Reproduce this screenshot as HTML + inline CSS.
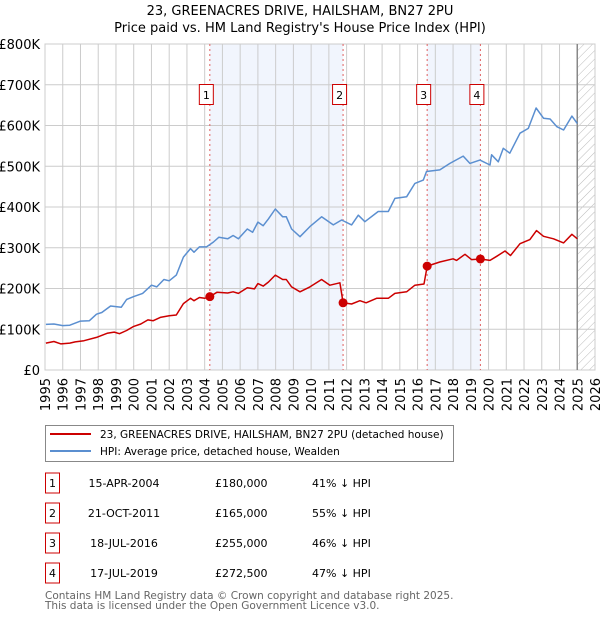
<!DOCTYPE html>
<html><head><meta charset="utf-8"><style>
body{margin:0;background:#fff;font-family:"DejaVu Sans","Liberation Sans",sans-serif}
svg{display:block}
</style></head><body>
<svg id="c" width="600" height="620" xmlns="http://www.w3.org/2000/svg" font-family="DejaVu Sans, Liberation Sans, sans-serif">
<defs><pattern id="hatch" width="6" height="6" patternUnits="userSpaceOnUse" patternTransform="rotate(45)"><line x1="0" y1="0" x2="0" y2="6" stroke="#bbb" stroke-width="1"/></pattern></defs>
<text x="300" y="15" text-anchor="middle" font-size="13">23, GREENACRES DRIVE, HAILSHAM, BN27 2PU</text>
<text x="300" y="32" text-anchor="middle" font-size="13">Price paid vs. HM Land Registry's House Price Index (HPI)</text>
<g id="plot"></g>
<g>
<rect x="45.5" y="425.5" width="408" height="36" fill="#fff" stroke="#888"/>
<line x1="50" y1="434" x2="91" y2="434" stroke="#cc0000" stroke-width="2"/>
<text x="100" y="438" font-size="10.5">23, GREENACRES DRIVE, HAILSHAM, BN27 2PU (detached house)</text>
<line x1="50" y1="451" x2="91" y2="451" stroke="#5b8fd0" stroke-width="2"/>
<text x="100" y="455" font-size="10.5">HPI: Average price, detached house, Wealden</text>
</g>
<g id="table"></g>
<text x="45" y="599" font-size="10.5" fill="#666">Contains HM Land Registry data © Crown copyright and database right 2025.</text>
<text x="45" y="609" font-size="10.5" fill="#666">This data is licensed under the Open Government Licence v3.0.</text>
</svg>
<script>
const hpiYears=[1995.05,1995.5,1996.0,1996.4,1997.0,1997.5,1997.9,1998.2,1998.7,1999.3,1999.6,2000.0,2000.5,2001.0,2001.3,2001.7,2002.0,2002.4,2002.8,2003.2,2003.4,2003.7,2004.1,2004.5,2004.8,2005.3,2005.6,2005.9,2006.4,2006.7,2007.0,2007.3,2007.6,2007.98,2008.4,2008.6,2008.9,2009.37,2009.93,2010.59,2011.25,2011.72,2012.28,2012.66,2013.03,2013.78,2014.35,2014.72,2015.38,2015.85,2016.32,2016.5,2017.25,2017.82,2018.57,2018.95,2019.51,2020.08,2020.17,2020.55,2020.83,2021.2,2021.77,2022.24,2022.68,2023.1,2023.47,2023.85,2024.23,2024.7,2025.0];
const hpiValues=[112,113,109,110,120,121,137,141,157,154,173,180,188,208,204,222,219,233,277,298,289,302,302,314,326,322,330,322,346,338,363,354,371,395,376,376,346,327,352,376,356,368,356,380,364,389,389,421,425,458,466,487,491,507,525,507,515,503,528,511,544,532,581,593,643,618,616,597,589,623,605];
const ppYears=[1995.05,1995.5,1995.9,1996.4,1996.7,1997.2,1997.9,1998.5,1998.9,1999.2,1999.6,2000.0,2000.4,2000.8,2001.1,2001.5,2002.0,2002.4,2002.8,2003.2,2003.4,2003.7,2004.0,2004.29,2004.7,2005.3,2005.6,2005.9,2006.4,2006.8,2007.0,2007.3,2007.6,2007.98,2008.4,2008.6,2008.9,2009.37,2009.93,2010.59,2011.06,2011.62,2011.8,2012.28,2012.75,2013.1,2013.69,2014.35,2014.72,2015.38,2015.85,2016.36,2016.54,2017.25,2018.0,2018.2,2018.67,2019.04,2019.54,2020.08,2020.46,2020.93,2021.24,2021.77,2022.33,2022.7,2023.1,2023.66,2024.23,2024.7,2025.0];
const ppValues=[66,70,64,66,69,72,80,90,93,89,97,107,113,123,121,129,133,135,163,176,170,178,176,180,191,189,192,188,202,199,212,206,216,233,222,222,204,192,204,222,208,214,165,162,170,165,176,176,188,192,208,211,255,265,273,269,284,271,272.5,269,279,292,281,310,320,342,328,322,312,333,322];
const saleLabels=["1","2","3","4"];
const saleYears=[2004.29,2011.8,2016.54,2019.54];
const salePrices=[180,165,255,272.5];
const saleDates=["15-APR-2004","21-OCT-2011","18-JUL-2016","17-JUL-2019"];
const salePriceText=["£180,000","£165,000","£255,000","£272,500"];
const saleHpiText=["41% ↓ HPI","55% ↓ HPI","46% ↓ HPI","47% ↓ HPI"];
const yTicks=[0,100,200,300,400,500,600,700,800];
const yTickLabels=["£0","£100K","£200K","£300K","£400K","£500K","£600K","£700K","£800K"];
const xTicks=[1995,1996,1997,1998,1999,2000,2001,2002,2003,2004,2005,2006,2007,2008,2009,2010,2011,2012,2013,2014,2015,2016,2017,2018,2019,2020,2021,2022,2023,2024,2025,2026];

const NS="http://www.w3.org/2000/svg";
const X0=45,X1=595,Y0=370,Y1=44;
const xs=y=>X0+(y-1995)/(2026-1995)*(X1-X0);
const ys=v=>Y0-v/800*(Y0-Y1);
function mk(tag,attrs,parent){const e=document.createElementNS(NS,tag);for(const k in attrs)e.setAttribute(k,attrs[k]);parent.appendChild(e);return e;}
const plot=document.getElementById('plot');
for(const [a,b] of [[0,1],[2,3]]){
 const r=mk('rect',{x:xs(saleYears[a]),y:Y1,width:xs(saleYears[b])-xs(saleYears[a]),height:Y0-Y1,fill:'#eef3fc',opacity:0.8},plot);
 
 
}
const hr=mk('rect',{x:xs(2025),y:Y1,width:X1-xs(2025),height:Y0-Y1,fill:'url(#hatch)'},plot);


yTicks.forEach((t,i)=>{
 mk('line',{x1:X0,x2:X1,y1:ys(t),y2:ys(t),stroke:'#ccc'},plot);
 const tx=mk('text',{x:40,y:ys(t)+5,'text-anchor':'end','font-size':13},plot);
 tx.textContent=yTickLabels[i];
 
 
});
xTicks.forEach(t=>{
 mk('line',{x1:xs(t),x2:xs(t),y1:Y1,y2:Y0,stroke:'#ccc'},plot);
 const tx=mk('text',{x:0,y:0,'text-anchor':'end','font-size':13,transform:`translate(${xs(t)+5},378) rotate(-90)`},plot);
 tx.textContent=t;
 
 
});
mk('rect',{x:X0,y:Y1,width:X1-X0,height:Y0-Y1,fill:'none',stroke:'#ccc'},plot);
const nl=mk('line',{x1:xs(2025),x2:xs(2025),y1:Y1,y2:Y0,stroke:'#888','stroke-width':1.5},plot);


saleYears.forEach((y,i)=>{
 mk('line',{x1:xs(y),x2:xs(y),y1:Y1,y2:Y0,stroke:'#e06060','stroke-dasharray':'2,3'},plot);
 const g=mk('g',{},plot);
 
 
 mk('rect',{x:xs(y)-10.5,y:84.5,width:14,height:20,fill:'#fff',stroke:'#cc0000'},g);
 const t=mk('text',{x:xs(y)-3.5,y:99,'text-anchor':'middle','font-size':11},g);
 t.textContent=saleLabels[i];
});
function line(xa,va,color,name){
 const p=mk('polyline',{points:xa.map((x,i)=>xs(x).toFixed(1)+','+ys(va[i]).toFixed(1)).join(' '),fill:'none',stroke:color,'stroke-width':1.5,'stroke-linejoin':'round'},plot);
 
 
}
line(hpiYears,hpiValues,'#5b8fd0','hpi-line');
line(ppYears,ppValues,'#cc0000','price-paid-line');
saleYears.forEach((y,i)=>{
 const c=mk('circle',{cx:xs(y),cy:ys(salePrices[i]),r:4.5,fill:'#cc0000'},plot);
 
 
});
const tb=document.getElementById('table');
saleLabels.forEach((l,i)=>{
 const cy=483+i*30;
 const g=mk('g',{},tb);
 
 
 mk('rect',{x:45.5,y:cy-10,width:14,height:20,fill:'#fff',stroke:'#cc0000'},g);
 let t=mk('text',{x:52.5,y:cy+4,'text-anchor':'middle','font-size':11},g);t.textContent=l;
 t=mk('text',{x:124,y:cy+4,'text-anchor':'middle','font-size':11},g);t.textContent=saleDates[i];
 t=mk('text',{x:215,y:cy+4,'font-size':11},g);t.textContent=salePriceText[i];
 t=mk('text',{x:312,y:cy+4,'font-size':11},g);t.textContent=saleHpiText[i];
});
</script>
</body></html>
